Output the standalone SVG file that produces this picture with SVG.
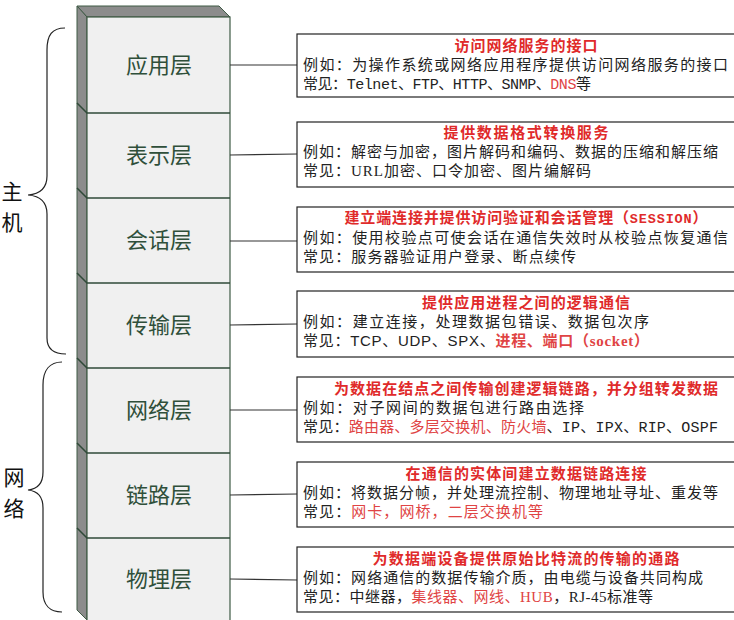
<svg xmlns="http://www.w3.org/2000/svg" width="734" height="620" viewBox="0 0 734 620">
<style>
.side{fill:#8c8c8c;stroke:#3f5a45;stroke-width:1}
.front{fill:#f0f0f0;stroke:#3f5a45;stroke-width:1.2}
.div{stroke:#2f4a38;stroke-width:1.5;fill:none}
.lay{font-family:"Noto Sans CJK SC","Noto Sans",sans-serif;font-size:22px;fill:#2f4f3a;text-anchor:middle}
.side-lbl{font-family:"Noto Sans CJK SC",sans-serif;font-size:21px;fill:#111;text-anchor:middle}
.brace{fill:none;stroke:#222;stroke-width:1.2}
.box{fill:#fff;stroke:#222;stroke-width:1.2}
.conn{stroke:#333;stroke-width:1.2;fill:none}
.t{font-family:"Noto Sans CJK SC",sans-serif;font-size:15px;fill:#e02a2a;font-weight:bold;text-anchor:middle}
.b{font-family:"Noto Sans CJK SC",sans-serif;font-size:15px;fill:#222}
.r{fill:#e04444}
.m{font-family:"Liberation Mono","Noto Sans CJK SC",monospace}
.s{font-family:"Liberation Serif","Noto Sans CJK SC",serif}
.a{font-family:"Liberation Sans","Noto Sans CJK SC",sans-serif}
</style>

<g id="stack">
  <polygon class="side" points="77,6 219,6 230,17 87,17"/>
  <polygon class="side" points="77,6 87,17 87,620 77,610"/>
  <rect class="front" x="87" y="17" width="143" height="606"/>
</g>
<g id="layers">
  <g id="l7"><text class="lay" x="159" y="73">应用层</text></g>
  <path class="div" d="M77,103 L87,113 L230,113"/>
  <g id="l6"><text class="lay" x="159" y="163">表示层</text></g>
  <path class="div" d="M77,188 L87,198 L230,198"/>
  <g id="l5"><text class="lay" x="159" y="248">会话层</text></g>
  <path class="div" d="M77,273 L87,283 L230,283"/>
  <g id="l4"><text class="lay" x="159" y="333">传输层</text></g>
  <path class="div" d="M77,358 L87,368 L230,368"/>
  <g id="l3"><text class="lay" x="159" y="418">网络层</text></g>
  <path class="div" d="M77,443 L87,453 L230,453"/>
  <g id="l2"><text class="lay" x="159" y="503">链路层</text></g>
  <path class="div" d="M77,528 L87,538 L230,538"/>
  <g id="l1"><text class="lay" x="159" y="587">物理层</text></g>
</g>

<g id="host">
  <path class="brace" d="M65,28 C52,28 47,35 47,50 L47,176 C47,188 40,194 28,195 C40,196 47,202 47,214 L47,338 C47,348 52,354 66,354"/>
  <text class="side-lbl" x="12" y="199">主</text>
  <text class="side-lbl" x="12" y="230">机</text>
</g>
<g id="network">
  <path class="brace" d="M62,362 C50,362 43,370 43,385 L43,472 C43,483 38,489 28,490 C38,491 43,497 43,508 L43,592 C43,605 50,612 62,612"/>
  <text class="side-lbl" x="14" y="485">网</text>
  <text class="side-lbl" x="14" y="516">络</text>
</g>

<g id="connectors">
  <line class="conn" x1="230" y1="65" x2="297" y2="65"/>
  <line class="conn" x1="230" y1="155" x2="297" y2="154"/>
  <line class="conn" x1="230" y1="241" x2="297" y2="241"/>
  <line class="conn" x1="230" y1="325" x2="297" y2="324"/>
  <line class="conn" x1="230" y1="410" x2="297" y2="410"/>
  <line class="conn" x1="230" y1="495" x2="297" y2="494"/>
  <line class="conn" x1="230" y1="579" x2="297" y2="580"/>
</g>

<g id="box7">
  <rect class="box" x="297" y="34" width="460" height="63"/>
  <text class="t" x="526" y="51" textLength="143" lengthAdjust="spacing">访问网络服务的接口</text>
  <text class="b" x="303" y="70" textLength="425" lengthAdjust="spacing">例如：为操作系统或网络应用程序提供访问网络服务的接口</text>
  <text class="b" x="303" y="89" textLength="288" lengthAdjust="spacing">常见：<tspan class="m">Telnet、FTP、HTTP、SNMP、</tspan><tspan class="m r">DNS</tspan>等</text>
</g>
<g id="box6">
  <rect class="box" x="297" y="122" width="460" height="65"/>
  <text class="t" x="526" y="138" textLength="165" lengthAdjust="spacing">提供数据格式转换服务</text>
  <text class="b" x="303" y="157" textLength="415" lengthAdjust="spacing">例如：解密与加密，图片解码和编码、数据的压缩和解压缩</text>
  <text class="b" x="303" y="176" textLength="288" lengthAdjust="spacing">常见：<tspan class="s">URL</tspan>加密、口令加密、图片编解码</text>
</g>
<g id="box5">
  <rect class="box" x="297" y="207" width="460" height="65"/>
  <text class="t" x="526" y="223" textLength="363" lengthAdjust="spacing">建立端连接并提供访问验证和会话管理（<tspan class="m" font-size="13.5">SESSION</tspan>）</text>
  <text class="b" x="303" y="243" textLength="425" lengthAdjust="spacing">例如：使用校验点可使会话在通信失效时从校验点恢复通信</text>
  <text class="b" x="303" y="262" textLength="273" lengthAdjust="spacing">常见：服务器验证用户登录、断点续传</text>
</g>
<g id="box4">
  <rect class="box" x="297" y="291" width="460" height="66"/>
  <text class="t" x="526" y="308" textLength="208" lengthAdjust="spacing">提供应用进程之间的逻辑通信</text>
  <text class="b" x="303" y="327" textLength="346" lengthAdjust="spacing">例如：建立连接，处理数据包错误、数据包次序</text>
  <text class="b" x="303" y="346" textLength="346" lengthAdjust="spacing">常见：<tspan class="a">TCP、UDP、SPX、</tspan><tspan class="r" font-weight="bold">进程、端口（<tspan class="s">socket</tspan>）</tspan></text>
</g>
<g id="box3">
  <rect class="box" x="297" y="377" width="460" height="65"/>
  <text class="t" x="526" y="394" textLength="384" lengthAdjust="spacing">为数据在结点之间传输创建逻辑链路，并分组转发数据</text>
  <text class="b" x="303" y="413" textLength="281" lengthAdjust="spacing">例如：对子网间的数据包进行路由选择</text>
  <text class="b" x="303" y="432" textLength="415" lengthAdjust="spacing">常见：<tspan class="r">路由器、多层交换机、防火墙</tspan><tspan class="m">、IP、IPX、RIP、OSPF</tspan></text>
</g>
<g id="box2">
  <rect class="box" x="297" y="462" width="460" height="65"/>
  <text class="t" x="526" y="479" textLength="241" lengthAdjust="spacing">在通信的实体间建立数据链路连接</text>
  <text class="b" x="303" y="498" textLength="415" lengthAdjust="spacing">例如：将数据分帧，并处理流控制、物理地址寻址、重发等</text>
  <text class="b" x="303" y="517" textLength="240" lengthAdjust="spacing">常见：<tspan class="r">网卡，网桥，二层交换机等</tspan></text>
</g>
<g id="box1">
  <rect class="box" x="297" y="547" width="460" height="65"/>
  <text class="t" x="526" y="564" textLength="307" lengthAdjust="spacing">为数据端设备提供原始比特流的传输的通路</text>
  <text class="b" x="303" y="583" textLength="400" lengthAdjust="spacing">例如：网络通信的数据传输介质，由电缆与设备共同构成</text>
  <text class="b" x="303" y="602" textLength="350" lengthAdjust="spacing">常见：中继器，<tspan class="r">集线器、网线、<tspan class="s">HUB</tspan></tspan>，<tspan class="s">RJ-45</tspan>标准等</text>
</g>
</svg>
